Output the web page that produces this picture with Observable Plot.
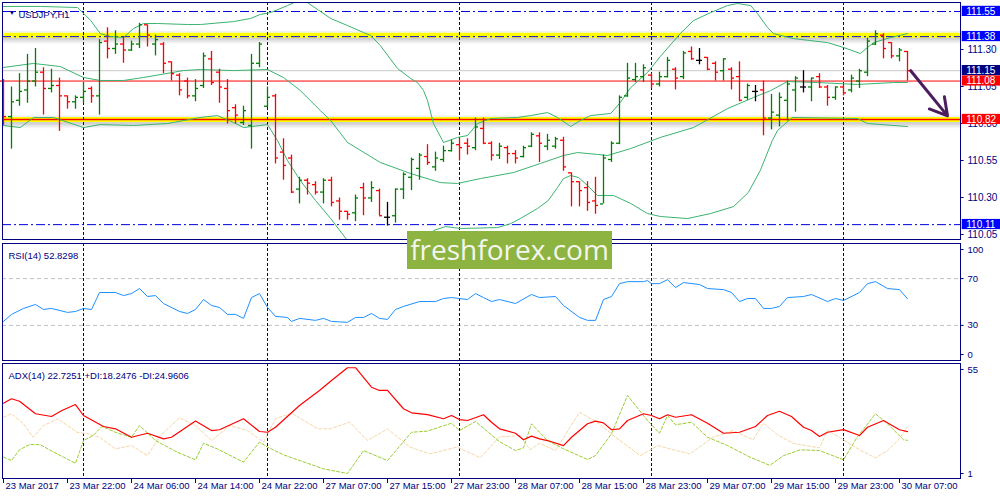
<!DOCTYPE html>
<html><head><meta charset="utf-8">
<script src="https://cdn.jsdelivr.net/npm/d3@7"></script>
<script src="https://cdn.jsdelivr.net/npm/@observablehq/plot@0.6"></script>
<style>
body{margin:0;background:#fff;}
#wrap{position:relative;width:1000px;height:500px;overflow:hidden;background:#fff;}
#wrap svg{position:absolute;left:0;}
#wm{position:absolute;left:407px;top:231px;width:205px;height:38px;background:#8db340;color:#f4f6ee;font-family:"Open Sans",sans-serif;font-size:28px;line-height:36px;text-align:center;}
</style></head><body><div id="wrap"></div>
<script>
// ---------- DATA ----------
const symbolTitle = "USDJPY,H1";
const open = [111.08,110.84,110.95,111.02,111.08,111.14,111.03,111.05,110.98,110.94,
110.97,111.03,110.98,111.35,111.30,111.33,111.29,111.33,111.46,111.33,
111.33,111.21,111.12,111.08,110.98,111.05,111.23,111.14,111.03,110.90,
110.80,110.78,111.20,110.91,110.98,110.60,110.56,110.35,110.41,110.38,
110.33,110.41,110.27,110.20,110.19,110.36,110.29,110.34,110.16,110.17,
110.35,110.43,110.49,110.57,110.50,110.55,110.61,110.65,110.66,110.63,
110.76,110.66,110.58,110.63,110.59,110.57,110.64,110.71,110.64,110.64,
110.68,110.46,110.40,110.36,110.27,110.25,110.55,110.66,110.98,111.09,
111.11,111.12,111.06,111.11,111.16,111.11,111.28,111.22,111.24,111.20,
111.15,111.16,111.11,110.97,111.01,111.02,110.83,110.85,110.95,111.02,
111.04,111.04,111.11,111.04,110.97,111.04,111.02,111.08,111.14,111.33,
111.39,111.34,111.25,111.28];
const high = [111.09,111.04,111.13,111.26,111.30,111.17,111.16,111.10,110.98,110.98,
111.07,111.04,111.36,111.44,111.42,111.38,111.35,111.47,111.46,111.39,
111.34,111.21,111.13,111.10,111.09,111.27,111.28,111.16,111.09,110.92,
110.91,111.26,111.34,111.04,110.99,110.69,110.58,110.43,110.42,110.40,
110.42,110.43,110.29,110.20,110.31,110.39,110.40,110.35,110.26,110.35,
110.46,110.56,110.59,110.65,110.60,110.64,110.68,110.69,110.69,110.83,
110.83,110.67,110.66,110.64,110.61,110.64,110.73,110.73,110.72,110.70,
110.70,110.46,110.40,110.40,110.43,110.58,110.67,110.98,111.20,111.20,
111.19,111.13,111.14,111.24,111.17,111.28,111.31,111.30,111.24,111.21,
111.23,111.17,111.21,111.06,111.05,111.08,110.99,111.00,111.08,111.11,
111.15,111.10,111.13,111.05,111.04,111.05,111.12,111.16,111.37,111.42,
111.40,111.34,111.30,111.28];
const low = [110.78,110.62,110.91,110.93,111.04,110.85,111.00,110.74,110.89,110.89,
110.93,110.93,110.85,111.23,111.26,111.20,111.28,111.30,111.31,111.25,
111.13,111.08,110.98,110.96,110.94,111.03,111.05,110.93,110.79,110.79,
110.78,110.62,111.17,110.90,110.52,110.41,110.32,110.25,110.31,110.31,
110.25,110.23,110.14,110.14,110.13,110.17,110.26,110.17,110.10,110.12,
110.28,110.34,110.41,110.51,110.47,110.53,110.60,110.54,110.58,110.61,
110.65,110.54,110.55,110.52,110.52,110.56,110.63,110.53,110.61,110.62,
110.47,110.23,110.23,110.20,110.18,110.25,110.53,110.65,110.97,111.07,
111.07,111.03,111.04,111.10,111.02,111.09,111.22,111.19,111.15,111.08,
111.08,111.02,110.94,110.95,110.94,110.71,110.75,110.77,110.81,110.87,
111.00,110.94,111.03,110.91,110.95,110.98,111.00,111.03,111.11,111.32,
111.23,111.23,111.21,111.08];
const close = [110.84,110.94,111.01,111.08,111.14,111.03,111.05,110.98,110.94,110.97,
111.01,110.98,111.34,111.30,111.33,111.29,111.33,111.46,111.39,111.36,
111.20,111.13,111.02,110.98,111.03,111.25,111.07,111.04,110.88,110.85,
110.88,111.20,111.33,110.97,110.56,110.51,110.33,110.41,110.39,110.33,
110.41,110.26,110.20,110.18,110.29,110.29,110.36,110.17,110.16,110.35,
110.45,110.55,110.58,110.53,110.56,110.61,110.66,110.63,110.64,110.77,
110.66,110.58,110.64,110.59,110.56,110.63,110.72,110.66,110.68,110.69,
110.50,110.40,110.34,110.26,110.24,110.56,110.66,110.97,111.10,111.11,
111.17,111.06,111.11,111.22,111.10,111.27,111.23,111.22,111.16,111.14,
111.23,111.10,110.95,111.05,111.01,110.83,110.87,110.97,111.06,111.10,
111.04,111.10,111.04,110.97,111.04,111.00,111.10,111.15,111.35,111.40,
111.30,111.25,111.29,111.15];

// Bollinger bands: [bar index, price]
const bbUpper = [[0,111.584],[4.6,111.584],[9.25,111.577],[10.9,111.489],[12.1,111.401],[13.4,111.381],[15,111.374],[16.25,111.435],[17.5,111.469],[19.25,111.469],[23,111.462],[24.6,111.462],[28.75,111.482],[30.9,111.503],[32.1,111.530],[33.4,111.543],[35.5,111.590],[37.1,111.630],[38,111.610],[40.9,111.503],[43,111.455],[45,111.408],[45.9,111.388],[47.1,111.320],[49.25,111.165],[50.9,111.097],[51.75,111.070],[52.5,111.016],[53,110.949],[53.75,110.793],[55,110.665],[56.75,110.699],[58,110.712],[59.25,110.793],[60.9,110.827],[64.25,110.834],[65.9,110.847],[68,110.867],[69.25,110.834],[70.9,110.773],[72.1,110.813],[73.4,110.847],[75.9,110.861],[77.1,110.935],[78.4,111.036],[80.5,111.138],[82.1,111.246],[84.6,111.401],[86.25,111.489],[88.4,111.543],[90.5,111.590],[91.75,111.604],[93.4,111.590],[94.25,111.536],[95.5,111.442],[96.25,111.401],[98.75,111.367],[103,111.340],[105,111.307],[107.1,111.266],[108.75,111.340],[110.9,111.374],[113,111.401]];
const bbMiddle = [[0,111.172],[3.75,111.199],[7.1,111.178],[10,111.104],[12.1,111.084],[15,111.084],[17.5,111.104],[22.5,111.151],[24.6,111.158],[28.75,111.151],[33,111.158],[35,111.104],[37.1,111.016],[39.6,110.881],[40.9,110.813],[43,110.665],[47.1,110.530],[50.9,110.455],[54.6,110.394],[56.75,110.388],[59.6,110.421],[63.75,110.462],[67.1,110.523],[70,110.577],[71.75,110.597],[74.25,110.584],[75.5,110.577],[78.4,110.624],[82.1,110.699],[86.25,110.766],[90.5,110.894],[93.75,110.969],[95.9,111.016],[98,111.077],[101.75,111.070],[106.75,111.057],[111.25,111.070],[113,111.070]];
const bbLower = [[0,110.780],[2.1,110.766],[3.75,110.834],[6.25,110.834],[10,110.766],[12.1,110.786],[16.25,110.780],[20.5,110.793],[24.6,110.834],[26.75,110.847],[28.75,110.800],[30,110.766],[33,110.786],[34.25,110.678],[35.5,110.543],[37.1,110.408],[39,110.273],[40.9,110.151],[43,110.002],[44.6,109.901],[47.1,109.854],[49.6,109.881],[52.1,109.969],[53.75,110.070],[55.25,110.097],[57.1,110.084],[61.75,110.090],[63.4,110.117],[64.6,110.151],[66.75,110.219],[68.1,110.273],[69.25,110.361],[70,110.421],[70.9,110.442],[71.9,110.428],[73,110.374],[74.25,110.307],[76.25,110.307],[78.4,110.253],[80.5,110.185],[82.1,110.165],[85.5,110.151],[88.4,110.185],[91.25,110.232],[93.1,110.327],[94.6,110.476],[96.1,110.678],[96.75,110.746],[98.6,110.834],[106.75,110.827],[108,110.793],[113,110.773]];

// RSI(14): [bar index, value]
const rsi = [[0,33.4],[1,39.4],[2.5,44.5],[4,47.9],[5,43.6],[6,44.5],[8,41.1],[9,41.9],[10,44.5],[11,43.6],[12,58.1],[14,58.1],[15,55.5],[16,57.2],[17,61.5],[18,54.7],[19,55.5],[20,48.7],[22,41.9],[23,40.2],[24,43.6],[25,52.1],[26,47.0],[27,45.3],[28,39.4],[29,39.4],[30,36.0],[31,53.8],[32,57.2],[33,45.3],[34,37.7],[35.5,36.8],[36,33.4],[37,36.0],[39,34.3],[40,36.0],[41,33.4],[43,32.6],[44,36.8],[45,36.8],[46,40.2],[47,36.0],[48,35.1],[49,43.6],[50,46.2],[52,50.4],[54,50.4],[55,53.0],[56,53.8],[58,52.1],[59,57.2],[60,53.8],[61,50.4],[62,52.1],[64,48.7],[66,56.4],[67,53.8],[69,54.7],[70,47.0],[72,36.8],[73,34.3],[74,34.3],[75,52.1],[76,54.7],[77,65.7],[78,67.4],[80,67.4],[80.5,68.3],[81,65.7],[82,65.7],[83,69.1],[84,62.3],[85,66.6],[87,64.9],[88,61.5],[90,60.6],[91,58.1],[92,50.4],[93,53.0],[94,53.0],[95,44.5],[96,44.5],[97,46.2],[98,53.8],[100,54.7],[101,56.4],[103,50.4],[104,53.0],[105,51.3],[107,58.1],[108,65.7],[109,67.4],[110.5,61.5],[112,60.6],[113,52.8]];
const rsiLevels = [70, 30];
const rsiTicks = [100, 70, 30, 0];

// ADX(14), +DI, -DI: [bar index, value]
const adx = [[0,37.5],[1,39.8],[2,38.5],[4,32.0],[6,30.6],[7.3,33.7],[9,36.8],[10,31.1],[12.5,25.4],[14,24.2],[16,19.8],[18,21.9],[20,19.0],[21,19.8],[24,28.2],[26,23.3],[27,23.7],[30,29.4],[32,22.8],[33,22.4],[34,25.0],[37,36.3],[39.5,44.1],[41,49.3],[43,55.9],[44,55.9],[46,45.8],[47,44.1],[48,44.1],[50,34.6],[51,32.5],[53,31.6],[55,29.4],[56,31.1],[57,29.0],[58,28.5],[60,31.5],[61,27.6],[62,24.2],[64,21.9],[65,18.5],[66,20.4],[67,19.0],[68,18.1],[70,15.5],[71,19.8],[73,26.8],[74,28.2],[75,27.3],[76,23.7],[77,24.2],[78,28.5],[80,32.0],[81,31.1],[82,29.4],[83,31.5],[84,30.2],[86,31.5],[88,27.1],[90,21.9],[92,22.4],[94,25.4],[95.5,31.1],[97,33.3],[98.5,30.6],[100,25.0],[101,23.3],[102,20.2],[103,22.4],[105,23.8],[107,20.7],[108,25.0],[110,28.5],[112,23.7],[113,22.7]];
const plusDI = [[0,9.5],[1,7.7],[2,13.3],[3.3,16.1],[4.6,15.9],[6.7,11.2],[9,6.3],[10,18.1],[11.2,20.7],[12.3,25.4],[14,22.4],[16,19.8],[17,25.9],[19,18.1],[21.7,12.1],[24,8.1],[25,16.7],[26.7,13.8],[30,6.9],[32,17.3],[33,14.7],[35,10.7],[40,3.4],[43,1.0],[45,12.9],[48,7.7],[51,22.4],[53,23.0],[56,27.1],[57,23.3],[59,28.0],[62,17.5],[64,12.9],[65,14.3],[66,26.8],[68,18.1],[70,13.8],[73,8.3],[74,10.3],[76,21.6],[78,41.5],[80.5,28.5],[82,21.9],[83,31.1],[84,26.3],[86,27.6],[88,19.8],[90.5,15.5],[93.3,9.5],[95.8,5.2],[97.5,10.3],[99.6,13.3],[102,12.9],[105,8.1],[106.7,19.8],[109,32.0],[110.5,26.8],[112.5,18.5],[113,18.2]];
const minusDI = [[0,30.2],[1,32.0],[2.5,26.8],[3.7,19.8],[5,25.9],[6.8,29.4],[9.2,22.4],[10.5,21.6],[12,19.8],[14,13.8],[16,15.5],[18,10.3],[19.6,20.7],[22,29.9],[24,25.9],[26,18.1],[28.3,25.9],[30.5,23.3],[32.5,17.3],[34,29.4],[36,32.3],[39.3,24.2],[40.8,24.2],[43.3,27.6],[45.5,18.1],[48,24.2],[50.8,14.7],[53.3,11.2],[56.7,14.7],[59.6,9.2],[62,20.0],[64.6,20.7],[65.8,13.3],[67,16.7],[69,12.9],[72,32.8],[74.2,27.6],[76.5,19.8],[79.6,10.3],[81.8,15.5],[83.7,13.3],[85.8,11.2],[88.7,19.8],[91.2,23.3],[93.7,18.5],[95,27.1],[96.7,21.2],[98.7,16.7],[102,14.3],[103,23.3],[105,18.5],[107,13.3],[109,9.1],[110.5,12.9],[111.8,18.1],[113,25.0]];
const adxTicks = [55, 1];

// time axis
const xTickIdx = [0,8,16,24,32,40,48,56,64,72,80,88,96,104,112];
const xTickLabels = ["23 Mar 2017","23 Mar 22:00","24 Mar 06:00","24 Mar 14:00","24 Mar 22:00","27 Mar 07:00","27 Mar 15:00","27 Mar 23:00","28 Mar 07:00","28 Mar 15:00","28 Mar 23:00","29 Mar 07:00","29 Mar 15:00","29 Mar 23:00","30 Mar 07:00"];
const daySeparators = [10, 33, 57, 81, 105];

// price levels
const priceTicks = [111.30, 111.05, 110.80, 110.55, 110.30, 110.05];
const dashDotLevels = [111.55, 111.38, 110.11];
const supportResistance = [111.39, 110.82];
const bidLevel = 111.15;
const redLevel = 111.08;
const targetLevel = 110.82;
const levelLabels = [111.55, 111.38, 111.15, 111.08, 110.82, 110.11];
const forecastArrow = [{x1: 113.4, y1: 111.15, x2: 118.0, y2: 110.845}];

const rsiLabel = "RSI(14) 52.8298";
const adxLabel = "ADX(14) 22.7251 +DI:18.2476 -DI:24.9606";

// ---------- STYLE ----------
const navy = "#000080";
const labelColors = ["#0000ff","#0000ff","#000080","#ff0000","#ff0000","#0000ff"];
const font = "Liberation Sans, Arial, sans-serif";
const xDom = [-0.125, 119.625];
const pxY = 1.6013 / 237;
const style = {fontFamily: font, fontSize: "10px", background: "transparent", overflow: "visible"};

const bars = open.map((o, i) => ({i, o, h: high[i], l: low[i], c: close[i],
  col: close[i] > o ? "#008000" : close[i] < o ? "#ff0000" : "#000000"}));
const lblObjs = levelLabels.map((v, k) => ({v, bg: labelColors[k]}));
const xTicks = xTickIdx.map((i, k) => ({i, label: xTickLabels[k]}));
const wrap = document.getElementById("wrap");

// right-axis helper (constant offsets per group)
function rightAxis(values, dy, fs) {
  return [
    Plot.ruleY(values, {x1: xDom[1], x2: xDom[1] + 0.45, stroke: navy, dy}),
    Plot.text(values, {y: d => d, frameAnchor: "right", dx: 7, dy, textAnchor: "start",
      text: d => (fs === 10 ? d.toFixed(2) : String(d)), fill: navy, fontSize: fs})
  ];
}

// ---------- MAIN PANEL ----------
const shadowOffsets = [[-4,0.06],[-3,0.1],[3,0.32],[4,0.26],[5,0.2],[6,0.14],[7,0.09],[8,0.05]];
const main = Plot.plot({
  width: 1000, height: 241, marginLeft: 2, marginRight: 40, marginTop: 2, marginBottom: 2,
  x: {domain: xDom, axis: null}, y: {domain: [110.0095, 111.6108], axis: null},
  color: {type: "identity"}, style,
  marks: [
    ...shadowOffsets.map(([dy, op]) => Plot.ruleY(supportResistance, {stroke: "#707070", strokeOpacity: op, strokeWidth: 1.2, dy})),
    Plot.ruleY(supportResistance, {stroke: "#ffff00", strokeWidth: 5}),
    Plot.ruleY([targetLevel], {stroke: "#ff0000", strokeWidth: 1.5}),
    Plot.ruleY([bidLevel], {stroke: "#c8c8c8"}),
    Plot.ruleY([redLevel], {stroke: "#ff0000"}),
    Plot.ruleY(dashDotLevels, {stroke: "#0000e0", strokeDasharray: "9,3,2,3"}),
    Plot.ruleX(daySeparators, {stroke: navy, strokeDasharray: "3,2"}),
    Plot.line(bbUpper, {x: d => d[0], y: d => d[1], stroke: "#3cb371", strokeWidth: 1, clip: true}),
    Plot.line(bbMiddle, {x: d => d[0], y: d => d[1], stroke: "#3cb371", strokeWidth: 1, clip: true}),
    Plot.line(bbLower, {x: d => d[0], y: d => d[1], stroke: "#3cb371", strokeWidth: 1, clip: true}),
    Plot.ruleX(bars, {x: "i", y1: "l", y2: "h", stroke: "col", strokeWidth: 1.3}),
    Plot.ruleY(bars, {y: "o", x1: d => d.i - 0.375, x2: "i", stroke: "col", strokeWidth: 1.3}),
    Plot.ruleY(bars, {y: "c", x1: "i", x2: d => d.i + 0.375, stroke: "col", strokeWidth: 1.3}),
    Plot.arrow(forecastArrow, {x1: "x1", y1: "y1", x2: "x2", y2: "y2", stroke: "#4b1d5e", strokeWidth: 3, headLength: 11}),
    Plot.frame({stroke: navy}),
    ...rightAxis(priceTicks, 1, 10),
    Plot.rect(lblObjs, {x1: xDom[1] + 0.22, x2: xDom[1] + 5.1, y1: d => d.v - 5 * pxY, y2: d => d.v + 5.2 * pxY, fill: "bg"}),
    Plot.text(lblObjs, {x: xDom[1] + 0.22, y: "v", dx: 4, textAnchor: "start", text: d => d.v.toFixed(2), fill: "white", fontSize: 10}),
    Plot.text(["\u25BC"], {frameAnchor: "top-left", dx: 6, dy: 8, fill: navy, fontSize: 7}),
    Plot.text([symbolTitle], {frameAnchor: "top-left", dx: 16, dy: 9, textAnchor: "start", fill: navy, fontSize: 9.5})
  ]
});
main.style.top = "0px";
wrap.appendChild(main);

// ---------- RSI PANEL ----------
const rsiPlot = Plot.plot({
  width: 1000, height: 120, marginLeft: 2, marginRight: 40, marginTop: 2, marginBottom: 1,
  x: {domain: xDom, axis: null}, y: {domain: [0, 100], axis: null}, style,
  marks: [
    Plot.ruleY(rsiLevels, {stroke: "#c0c0c0", strokeDasharray: "4,3"}),
    Plot.ruleX(daySeparators, {stroke: navy, strokeDasharray: "3,2"}),
    Plot.line(rsi, {x: d => d[0], y: d => d[1], stroke: "#1e90ff", strokeWidth: 1}),
    Plot.frame({stroke: navy}),
    ...rightAxis(rsiTicks.filter(d => d === 100), 6, 9.5),
    ...rightAxis(rsiTicks.filter(d => d !== 100 && d !== 0), 0, 9.5),
    ...rightAxis(rsiTicks.filter(d => d === 0), -6, 9.5),
    Plot.text([rsiLabel], {frameAnchor: "top-left", dx: 6, dy: 9, textAnchor: "start", fill: navy, fontSize: 9.5})
  ]
});
rsiPlot.style.top = "241px";
wrap.appendChild(rsiPlot);

// ---------- ADX PANEL ----------
const adxDom = [-1.6, 58.1];
const adxPlot = Plot.plot({
  width: 1000, height: 140, marginLeft: 2, marginRight: 40, marginTop: 3, marginBottom: 22,
  x: {domain: xDom, axis: null}, y: {domain: adxDom, axis: null}, style,
  marks: [
    Plot.ruleX(daySeparators, {stroke: navy, strokeDasharray: "3,2"}),
    Plot.line(minusDI, {x: d => d[0], y: d => d[1], stroke: "#f7d6a8", strokeWidth: 1, strokeDasharray: "3,2"}),
    Plot.line(plusDI, {x: d => d[0], y: d => d[1], stroke: "#9acd32", strokeWidth: 1, strokeDasharray: "3,2"}),
    Plot.line(adx, {x: d => d[0], y: d => d[1], stroke: "#ff0000", strokeWidth: 1.2}),
    Plot.frame({stroke: navy}),
    ...rightAxis(adxTicks, 0, 9.5),
    Plot.ruleX(xTicks, {x: "i", y1: adxDom[0], y2: adxDom[0] - 2.6, stroke: navy}),
    Plot.text(xTicks, {x: "i", text: "label", frameAnchor: "bottom", dy: 10, dx: 2, textAnchor: "start", fill: navy, fontSize: 9.5}),
    Plot.text([adxLabel], {frameAnchor: "top-left", dx: 6, dy: 9, textAnchor: "start", fill: navy, fontSize: 9.5})
  ]
});
adxPlot.style.top = "360px";
wrap.appendChild(adxPlot);

// ---------- watermark ----------
const wm = document.createElement("div");
wm.id = "wm";
wm.textContent = "freshforex.com";
wrap.appendChild(wm);
</script></body></html>
